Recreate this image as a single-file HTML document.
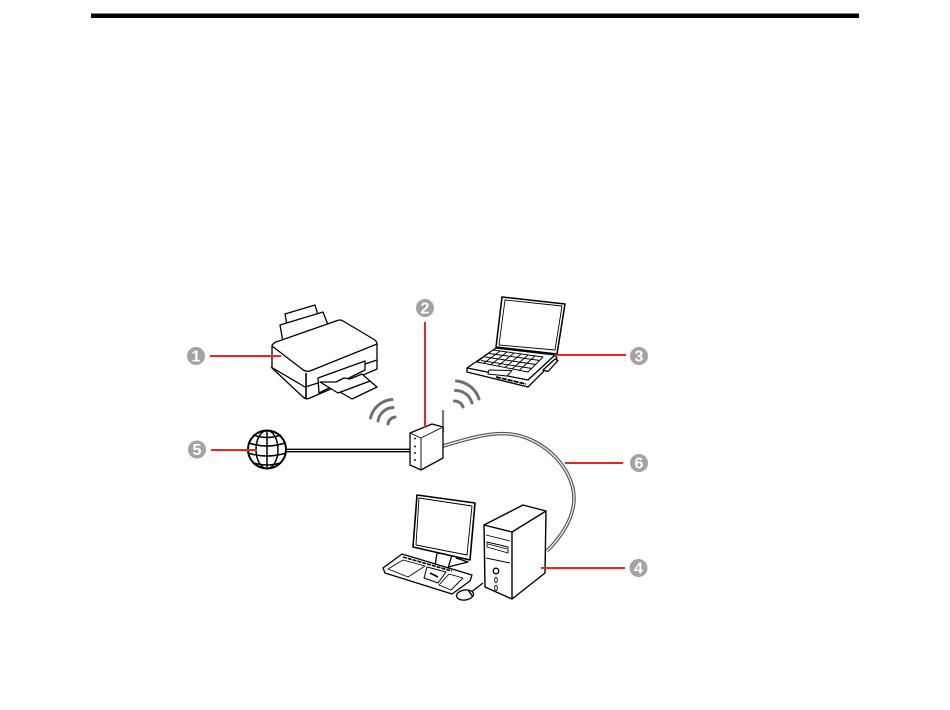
<!DOCTYPE html>
<html>
<head>
<meta charset="utf-8">
<style>
html,body{margin:0;padding:0;background:#fff;width:950px;height:710px;overflow:hidden}
svg{display:block}
text{font-family:"Liberation Sans",sans-serif;font-weight:bold;font-size:16px;fill:#fff;text-anchor:middle}
</style>
</head>
<body>
<svg width="950" height="710" viewBox="0 0 950 710" xmlns="http://www.w3.org/2000/svg">
<defs><filter id="b" x="-5%" y="-5%" width="110%" height="110%"><feGaussianBlur stdDeviation="0.25"/></filter></defs>
<rect width="950" height="710" fill="#fff"/>
<rect x="91" y="13.500" width="768" height="4.500" fill="#000"/>
<g filter="url(#b)">
<!-- cables -->
<path d="M286 450.500H411" stroke="#000" stroke-width="3.800" fill="none"/>
<path d="M286 450.500H411" stroke="#fff" stroke-width="1" fill="none"/>
<path d="M443 446C470 438 490 432 510 434C545 438 575 470 574 500C573 520 560 538 547 551" stroke="#555" stroke-width="3.600" fill="none"/>
<path d="M443 446C470 438 490 432 510 434C545 438 575 470 574 500C573 520 560 538 547 551" stroke="#eee" stroke-width="1.300" fill="none"/>

<!-- printer -->
<g fill="#fff" stroke="#000" stroke-width="1.300" stroke-linejoin="round">
<path d="M285 314L315 305L318 315L287 325Z"/>
<path d="M280 325L323 312L328 325L283 342Z"/>
<path d="M272 346Q272 344 276 342L336 321Q340 319 343 321L375 340Q377 342 377 344V369L310 398Q306 400 303 397L272 368Z"/>
<path d="M272 346L302 369Q305 372 310 371L377 344" fill="none"/>
<path d="M271 367L305 387L318 383M365 364L377 360" fill="none"/>
<path d="M306 373V398" fill="none" stroke-width="1.600"/>
<path d="M318 378L365 361V370L319 393Z"/>
<path d="M340 392L352 399L377 387L370 381Z"/>
<path d="M320 382L338 393L370 381L362 374L350 379L344 378L336 382Z"/>
</g>

<!-- laptop -->
<g fill="#fff" stroke="#000" stroke-width="1.300" stroke-linejoin="round">
<path d="M502 297L565 304L557 354L496 347Z" stroke-width="1.500"/>
<path d="M505 300L562 306L555 350L499 345Z" stroke-width="0.900"/>
<path d="M496 348L555 355L557 358L528 387L467 372V368Z"/>
<path d="M467 368L528 380L555 355" fill="none"/>
<path d="M493 350L543 357L528 372L477 362Z" stroke-width="0.900"/>
<g stroke="#000" stroke-width="0.900" fill="none">
<path d="M489 353.500L540 360.500M485 357L536 364.500M481 360.500L532 368.500"/>
<path d="M500 351L484 363M507 352L491 364.500M514 353L498 366M521 354L505 367.500M528 355L512 369M535 356L519 370.500"/>
</g>
<path d="M489 370L512 370.500L507 376L488 374Z" stroke-width="1"/>
<path d="M543 370L555 359L558 360.500L548 371.500Z"/>
<path d="M496 377L526 384" fill="none" stroke-width="1.800" stroke-dasharray="5 1"/>
</g>

<!-- wifi arcs -->
<g fill="none" stroke="#707070" stroke-width="3" stroke-linecap="round">
<path d="M370.500 418A24 24 0 0 1 392 399.500"/>
<path d="M378 421A16 16 0 0 1 393 407.500"/>
<path d="M388 424A8 8 0 0 1 395 417"/>
<path d="M456.500 381A26 26 0 0 1 479 399"/>
<path d="M455.500 390.500A17 17 0 0 1 472 403"/>
<path d="M454.500 401A9 9 0 0 1 463 407"/>
</g>

<!-- router -->
<path d="M443 410V432" stroke="#777" stroke-width="2.200" fill="none"/>
<g fill="#fff" stroke="#000" stroke-width="1.300" stroke-linejoin="round">
<path d="M410 433L432 424L443 427V458L421 470L410 465Z"/>
<path d="M410 433L421 438L443 427M421 438V470" fill="none" stroke-width="0.900"/>
</g>
<g fill="#222">
<circle cx="415" cy="438.500" r="1"/><circle cx="415" cy="446.500" r="1"/>
<circle cx="415" cy="453" r="1"/><circle cx="415" cy="460" r="1"/>
</g>

<!-- globe -->
<circle cx="267" cy="449.500" r="19" fill="#fff" stroke="#000" stroke-width="2"/>
<g fill="none" stroke="#000" stroke-width="1.500">
<ellipse cx="267" cy="449.500" rx="11" ry="19"/>
<path d="M267 430.500V468.500"/>
<path d="M249 443Q267 449 285 443"/>
<path d="M248 453Q267 459 286 453"/>
<path d="M253 435Q267 440 281 435"/>
<path d="M254 463Q267 467 280 463"/>
</g>

<!-- monitor -->
<g fill="#fff" stroke="#000" stroke-width="1.300" stroke-linejoin="round">
<path d="M437 553L435 566L448 568L452 555Z"/>
<path d="M448 567L468 562L456 558"/>
<path d="M417 495L475 503L470 560L413 547Z" stroke-width="1.600"/>
<path d="M419 498L472 506L467 555L416 545Z" stroke-width="0.900"/>
<!-- keyboard -->
<path d="M383 568L402 554L472 575L470 581L452 594L385 573Z"/>
<path d="M388 569L403 560L425 566L408 577Z" stroke-width="0.800"/>
<path d="M403 557L452 571" fill="none" stroke-width="1.600" stroke-dasharray="4 1"/>
<path d="M427 567L446 572L438 583L424 578Z" stroke-width="1"/>
<path d="M449 574L463 578L451 590L439 585Z" stroke-width="0.900"/>
<path d="M430 573L438 577" fill="none" stroke-width="1.600"/>
<!-- mouse -->
<path d="M470 593L483 583" fill="none"/>
<ellipse cx="465" cy="595" rx="8.500" ry="5" transform="rotate(-8 465 595)"/>
<path d="M468 590L473 597" fill="none" stroke-width="1.400"/>
</g>

<!-- tower -->
<g fill="#fff" stroke="#000" stroke-width="1.400" stroke-linejoin="round">
<path d="M484 525L523 505L546 511L545 573L512 599L485 587Z"/>
<path d="M484 525L512 532L546 511M512 532V599" fill="none"/>
<g stroke-width="0.900">
<path d="M486 535L510 541M486 558L510 563" fill="none"/>
<path d="M487 542L508 547V553L487 547Z"/>
<path d="M488 544L507 549" fill="none"/>
<circle cx="496" cy="571" r="2.800" stroke-width="1.300"/>
<ellipse cx="496" cy="580" rx="1.300" ry="2.600"/>
<ellipse cx="496" cy="588" rx="1.300" ry="2.600"/>
</g>
</g>

<!-- red leaders -->
<g stroke="#e8281e" stroke-width="2" fill="none">
<path d="M210 356H281"/>
<path d="M211 450H257"/>
<path d="M425 322V428"/>
<path d="M555 355H626"/>
<path d="M565 463H623"/>
<path d="M541 568H625"/>
</g>

<!-- number badges -->
<g fill="#a3a3a3">
<circle cx="196" cy="356" r="9"/>
<circle cx="197" cy="449.500" r="9"/>
<circle cx="425" cy="308" r="9"/>
<circle cx="639" cy="356" r="9"/>
<circle cx="639" cy="463" r="9"/>
<circle cx="638.500" cy="568" r="9"/>
</g>
<text x="196" y="361.500">1</text>
<text x="197" y="455">5</text>
<text x="425" y="313.500">2</text>
<text x="639" y="361.500">3</text>
<text x="639" y="468.500">6</text>
<text x="638.500" y="573.500">4</text>
</g>
</svg>
</body>
</html>
